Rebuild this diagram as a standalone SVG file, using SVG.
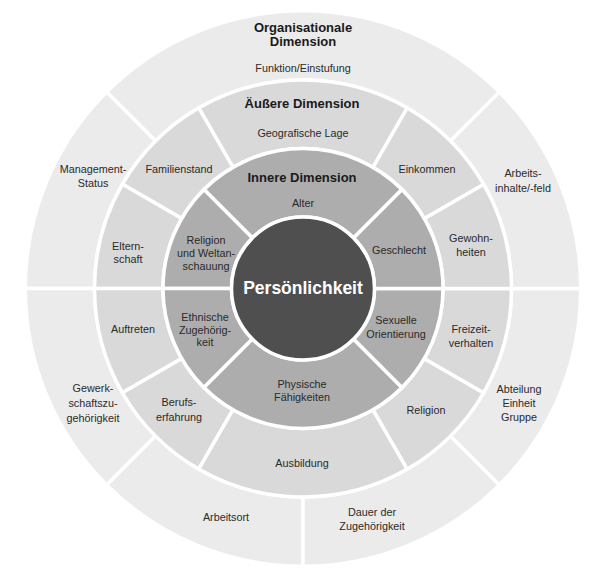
<svg xmlns="http://www.w3.org/2000/svg" width="606" height="576" viewBox="0 0 606 576">
<style>
.seg{stroke:#ffffff;stroke-width:3.5;stroke-linejoin:miter}
.org{fill:#ebebeb}
.aus{fill:#d9d9d9}
.inn{fill:#adadad}
.core{fill:#4f4f4f}
text{font-family:"Liberation Sans",Arial,sans-serif;fill:#2a2a2a;text-anchor:middle}
.lbl{font-size:10.8px}
.head{font-size:13px;font-weight:bold;fill:#1a1a1a}
.core-t{font-size:17.5px;font-weight:bold;fill:#ffffff}
</style>
<rect x="0" y="0" width="606" height="576" fill="#ffffff"/>

<!-- Organisationale Dimension (outer ring) -->
<g id="org-funktion">
<path class="seg org" d="M499.40,92.10 A277.75,277.75 0 0 0 106.60,92.10 L155.57,141.07 A208.5,208.5 0 0 1 450.43,141.07 Z"/>
<text class="head" x="303" y="32">Organisationale</text>
<text class="head" x="303" y="46">Dimension</text>
<text class="lbl" x="303" y="72">Funktion/Einstufung</text>
</g>
<g id="org-management">
<path class="seg org" d="M106.60,92.10 A277.75,277.75 0 0 0 25.25,288.5 L94.5,288.5 A208.5,208.5 0 0 1 155.57,141.07 Z"/>
<text class="lbl" x="93" y="173">Management-</text>
<text class="lbl" x="93" y="187">Status</text>
</g>
<g id="org-gewerkschaft">
<path class="seg org" d="M25.25,288.5 A277.75,277.75 0 0 0 106.60,484.90 L155.57,435.93 A208.5,208.5 0 0 1 94.5,288.5 Z"/>
<text class="lbl" x="93" y="392">Gewerk-</text>
<text class="lbl" x="93" y="407">schaftszu-</text>
<text class="lbl" x="93" y="422">gehörigkeit</text>
</g>
<g id="org-arbeitsort">
<path class="seg org" d="M106.60,484.90 A277.75,277.75 0 0 0 303,566.25 L303,497 A208.5,208.5 0 0 1 155.57,435.93 Z"/>
<text class="lbl" x="226" y="521">Arbeitsort</text>
</g>
<g id="org-dauer">
<path class="seg org" d="M303,566.25 A277.75,277.75 0 0 0 499.40,484.90 L450.43,435.93 A208.5,208.5 0 0 1 303,497 Z"/>
<text class="lbl" x="372" y="516">Dauer der</text>
<text class="lbl" x="372" y="530">Zugehörigkeit</text>
</g>
<g id="org-abteilung">
<path class="seg org" d="M499.40,484.90 A277.75,277.75 0 0 0 580.75,288.5 L511.5,288.5 A208.5,208.5 0 0 1 450.43,435.93 Z"/>
<text class="lbl" x="519" y="393">Abteilung</text>
<text class="lbl" x="519" y="407">Einheit</text>
<text class="lbl" x="519" y="421">Gruppe</text>
</g>
<g id="org-arbeitsinhalte">
<path class="seg org" d="M580.75,288.5 A277.75,277.75 0 0 0 499.40,92.10 L450.43,141.07 A208.5,208.5 0 0 1 511.5,288.5 Z"/>
<text class="lbl" x="523" y="177">Arbeits-</text>
<text class="lbl" x="523" y="192">inhalte/-feld</text>
</g>

<!-- Äußere Dimension (middle ring) -->
<g id="aus-geografische-lage">
<path class="seg aus" d="M407.25,107.93 A208.5,208.5 0 0 0 198.75,107.93 L233,167.26 A140,140 0 0 1 373,167.26 Z"/>
<text class="head" x="302" y="108">Äußere Dimension</text>
<text class="lbl" x="303" y="137">Geografische Lage</text>
</g>
<g id="aus-familienstand">
<path class="seg aus" d="M198.75,107.93 A208.5,208.5 0 0 0 122.43,184.25 L181.76,218.5 A140,140 0 0 1 233,167.26 Z"/>
<text class="lbl" x="179" y="173">Familienstand</text>
</g>
<g id="aus-elternschaft">
<path class="seg aus" d="M122.43,184.25 A208.5,208.5 0 0 0 94.5,288.5 L163,288.5 A140,140 0 0 1 181.76,218.5 Z"/>
<text class="lbl" x="128" y="250">Eltern-</text>
<text class="lbl" x="128" y="263">schaft</text>
</g>
<g id="aus-auftreten">
<path class="seg aus" d="M94.5,288.5 A208.5,208.5 0 0 0 122.43,392.75 L181.76,358.5 A140,140 0 0 1 163,288.5 Z"/>
<text class="lbl" x="133" y="333">Auftreten</text>
</g>
<g id="aus-berufserfahrung">
<path class="seg aus" d="M122.43,392.75 A208.5,208.5 0 0 0 198.75,469.07 L233,409.74 A140,140 0 0 1 181.76,358.5 Z"/>
<text class="lbl" x="179" y="406">Berufs-</text>
<text class="lbl" x="179" y="421">erfahrung</text>
</g>
<g id="aus-ausbildung">
<path class="seg aus" d="M198.75,469.07 A208.5,208.5 0 0 0 407.25,469.07 L373,409.74 A140,140 0 0 1 233,409.74 Z"/>
<text class="lbl" x="302" y="467">Ausbildung</text>
</g>
<g id="aus-religion">
<path class="seg aus" d="M407.25,469.07 A208.5,208.5 0 0 0 483.57,392.75 L424.24,358.5 A140,140 0 0 1 373,409.74 Z"/>
<text class="lbl" x="426" y="414">Religion</text>
</g>
<g id="aus-freizeitverhalten">
<path class="seg aus" d="M483.57,392.75 A208.5,208.5 0 0 0 511.5,288.5 L443,288.5 A140,140 0 0 1 424.24,358.5 Z"/>
<text class="lbl" x="471" y="333">Freizeit-</text>
<text class="lbl" x="471" y="347">verhalten</text>
</g>
<g id="aus-gewohnheiten">
<path class="seg aus" d="M511.5,288.5 A208.5,208.5 0 0 0 483.57,184.25 L424.24,218.5 A140,140 0 0 1 443,288.5 Z"/>
<text class="lbl" x="471" y="242">Gewohn-</text>
<text class="lbl" x="471" y="256">heiten</text>
</g>
<g id="aus-einkommen">
<path class="seg aus" d="M483.57,184.25 A208.5,208.5 0 0 0 407.25,107.93 L373,167.26 A140,140 0 0 1 424.24,218.5 Z"/>
<text class="lbl" x="427" y="173">Einkommen</text>
</g>

<!-- Innere Dimension (inner ring) -->
<g id="inn-alter">
<path class="seg inn" d="M401.99,189.51 A140,140 0 0 0 204.01,189.51 L252.44,237.94 A71.5,71.5 0 0 1 353.56,237.94 Z"/>
<text class="head" x="302" y="182">Innere Dimension</text>
<text class="lbl" x="303" y="207">Alter</text>
</g>
<g id="inn-religion-weltanschauung">
<path class="seg inn" d="M204.01,189.51 A140,140 0 0 0 163,288.5 L231.5,288.5 A71.5,71.5 0 0 1 252.44,237.94 Z"/>
<text class="lbl" x="206" y="244">Religion</text>
<text class="lbl" x="206" y="257">und Weltan-</text>
<text class="lbl" x="206" y="270">schauung</text>
</g>
<g id="inn-ethnische-zugehoerigkeit">
<path class="seg inn" d="M163,288.5 A140,140 0 0 0 204.01,387.49 L252.44,339.06 A71.5,71.5 0 0 1 231.5,288.5 Z"/>
<text class="lbl" x="205" y="321">Ethnische</text>
<text class="lbl" x="205" y="334">Zugehörig-</text>
<text class="lbl" x="205" y="346">keit</text>
</g>
<g id="inn-physische-faehigkeiten">
<path class="seg inn" d="M204.01,387.49 A140,140 0 0 0 401.99,387.49 L353.56,339.06 A71.5,71.5 0 0 1 252.44,339.06 Z"/>
<text class="lbl" x="302" y="388">Physische</text>
<text class="lbl" x="302" y="401">Fähigkeiten</text>
</g>
<g id="inn-sexuelle-orientierung">
<path class="seg inn" d="M401.99,387.49 A140,140 0 0 0 443,288.5 L374.5,288.5 A71.5,71.5 0 0 1 353.56,339.06 Z"/>
<text class="lbl" x="396" y="324">Sexuelle</text>
<text class="lbl" x="396" y="338">Orientierung</text>
</g>
<g id="inn-geschlecht">
<path class="seg inn" d="M443,288.5 A140,140 0 0 0 401.99,189.51 L353.56,237.94 A71.5,71.5 0 0 1 374.5,288.5 Z"/>
<text class="lbl" x="399" y="254">Geschlecht</text>
</g>

<!-- Core -->
<g id="persoenlichkeit">
<circle class="seg core" cx="303" cy="288.5" r="71.5"/>
<text class="core-t" x="303" y="294">Persönlichkeit</text>
</g>
</svg>
